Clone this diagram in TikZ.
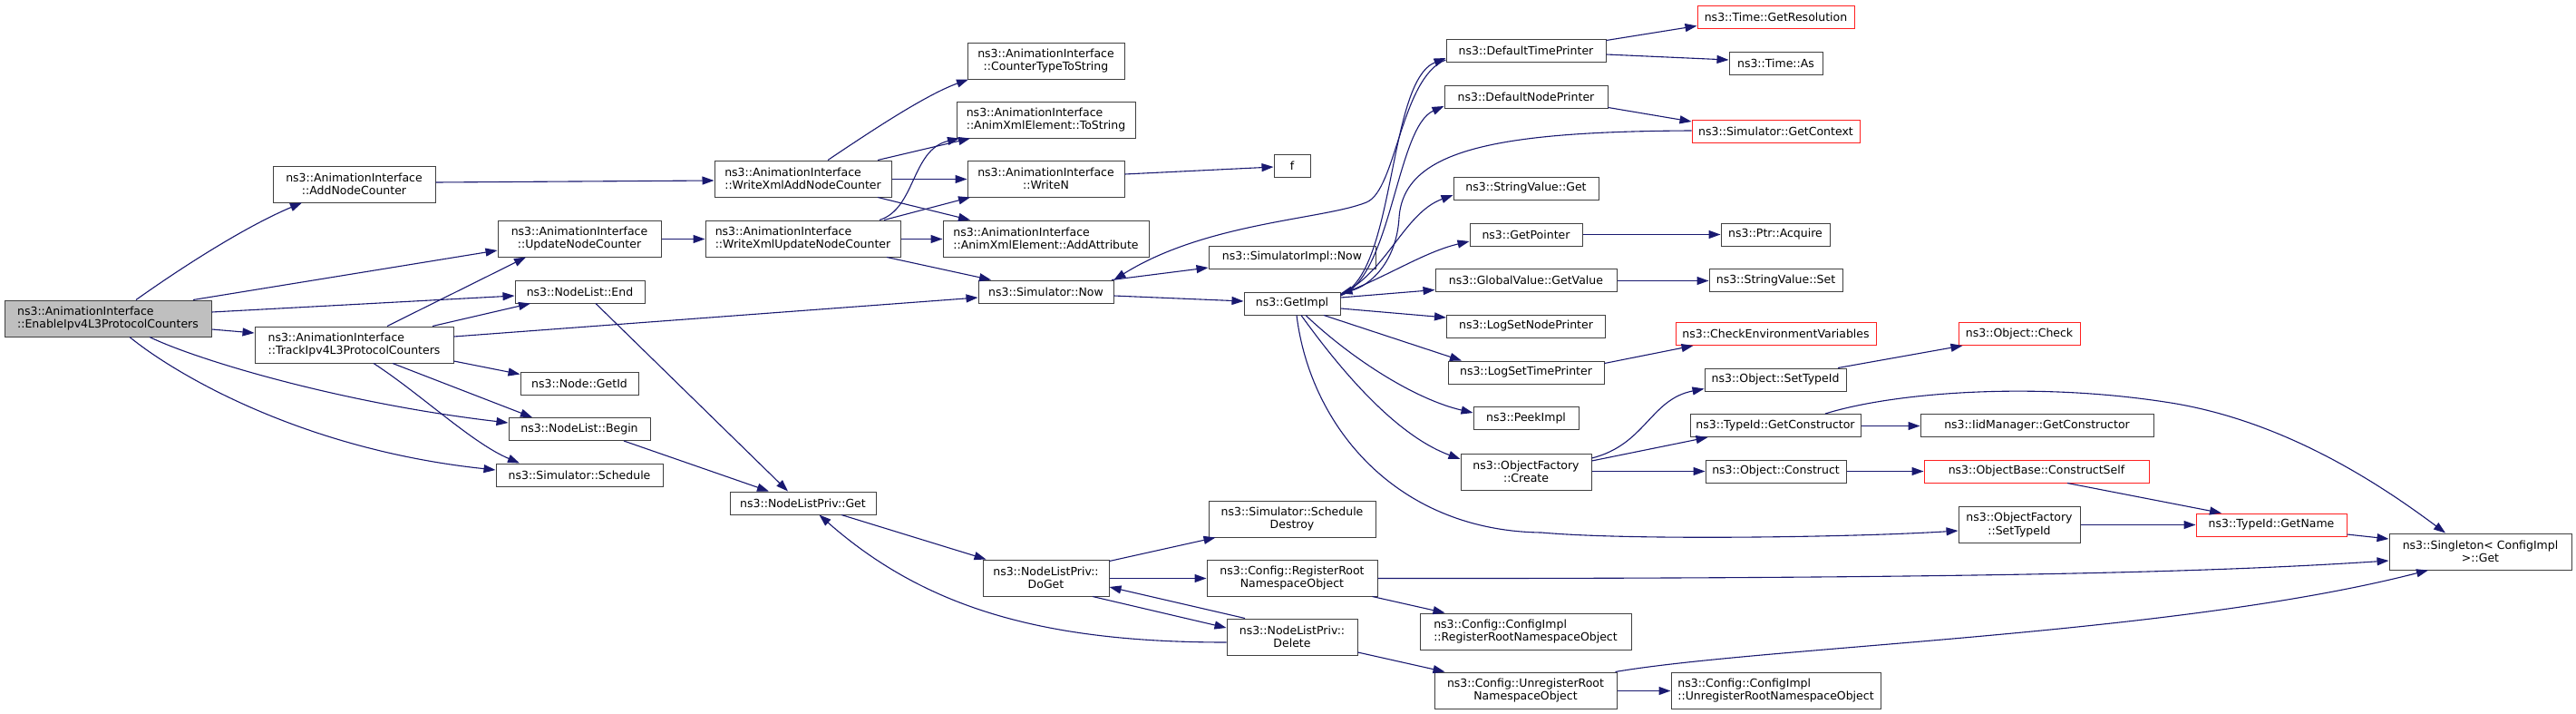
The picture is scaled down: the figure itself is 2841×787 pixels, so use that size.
\documentclass[tikz,border=0pt]{standalone}
\usepackage{fontspec}
\newfontfamily\dvs{DejaVu Sans}
\usetikzlibrary{arrows.meta}
\definecolor{edgec}{HTML}{191970}
\definecolor{nodeb}{HTML}{404040}
\definecolor{rootfill}{HTML}{BFBFBF}
\definecolor{redb}{HTML}{FF2020}
\newcommand{\ndfont}{\dvs\fontsize{12.5pt}{14.3pt}\selectfont}
\tikzset{
  nd/.style={draw=nodeb, line width=1pt, fill=white, inner xsep=4pt, inner ysep=0pt,
             minimum height=25pt, font=\ndfont, text=black},
  tl/.style={minimum height=40pt, align=center},
  tll/.style={minimum height=40pt, align=left},
  rd/.style={draw=redb},
  e/.style={draw=edgec, line width=1.1pt, -{Triangle[length=13pt,width=9pt]}}
}
\begin{document}
\begin{tikzpicture}[x=1pt,y=-1pt]
\path[fill=white] (0,0) rectangle (2841,787);
\useasboundingbox (0,0) rectangle (2841,787);
% column 1
\node[nd, tll, fill=rootfill, minimum width=228pt] (root) at (119,351) {ns3::AnimationInterface\\::EnableIpv4L3ProtocolCounters};
% column 2
\node[nd, tl, minimum width=179pt] (addnc) at (390.5,203) {ns3::AnimationInterface\\::AddNodeCounter};
\node[nd, tll, minimum width=219pt] (track) at (390.5,380) {ns3::AnimationInterface\\::TrackIpv4L3ProtocolCounters};
% column 3
\node[nd, tl, minimum width=180pt] (updnc) at (639,263) {ns3::AnimationInterface\\::UpdateNodeCounter};
\node[nd, minimum width=143pt] (nlend) at (639.5,321.5) {ns3::NodeList::End};
\node[nd, minimum width=130pt] (getid) at (639,422.5) {ns3::Node::GetId};
\node[nd, minimum width=156pt] (nlbegin) at (639,473) {ns3::NodeList::Begin};
\node[nd, minimum width=184pt] (sched) at (639,523.5) {ns3::Simulator::Schedule};
% column 4
\node[nd, tll, minimum width=195pt] (wxadd) at (885.5,197) {ns3::AnimationInterface\\::WriteXmlAddNodeCounter};
\node[nd, tll, minimum width=215pt] (wxupd) at (885.5,263) {ns3::AnimationInterface\\::WriteXmlUpdateNodeCounter};
\node[nd, minimum width=161pt] (nlpget) at (885.5,554.5) {ns3::NodeListPriv::Get};
% column 5
\node[nd, tl, minimum width=173pt] (ctts) at (1153.5,67) {ns3::AnimationInterface\\::CounterTypeToString};
\node[nd, tll, minimum width=197pt] (tostr) at (1153.5,132) {ns3::AnimationInterface\\::AnimXmlElement::ToString};
\node[nd, tl, minimum width=173pt] (writen) at (1153.5,197) {ns3::AnimationInterface\\::WriteN};
\node[nd, tll, minimum width=227pt] (addattr) at (1153.5,263) {ns3::AnimationInterface\\::AnimXmlElement::AddAttribute};
\node[nd, minimum width=149pt] (simnow) at (1153.5,321.5) {ns3::Simulator::Now};
\node[nd, tl, minimum width=139pt] (doget) at (1153.5,637) {ns3::NodeListPriv::\\DoGet};
% column 6
\node[nd, minimum width=40pt] (f) at (1425,182.5) {f};
\node[nd, minimum width=184pt] (simimplnow) at (1425,283.5) {ns3::SimulatorImpl::Now};
\node[nd, minimum width=106pt] (getimpl) at (1425,334.5) {ns3::GetImpl};
\node[nd, tl, minimum width=184pt] (schdestroy) at (1425,572) {ns3::Simulator::Schedule\\Destroy};
\node[nd, tl, minimum width=188pt] (regroot) at (1425,637) {ns3::Config::RegisterRoot\\NamespaceObject};
\node[nd, tl, minimum width=144pt] (delete) at (1425,702) {ns3::NodeListPriv::\\Delete};
% column 7
\node[nd, minimum width=176pt] (deftp) at (1683,55.5) {ns3::DefaultTimePrinter};
\node[nd, minimum width=180pt] (defnp) at (1683,106.5) {ns3::DefaultNodePrinter};
\node[nd, minimum width=160pt] (svget) at (1683,207.5) {ns3::StringValue::Get};
\node[nd, minimum width=124pt] (getptr) at (1683,258.5) {ns3::GetPointer};
\node[nd, minimum width=200pt] (gvget) at (1683,309) {ns3::GlobalValue::GetValue};
\node[nd, minimum width=175pt] (logsnp) at (1683,359.5) {ns3::LogSetNodePrinter};
\node[nd, minimum width=172pt] (logstp) at (1683,410.5) {ns3::LogSetTimePrinter};
\node[nd, minimum width=116pt] (peekimpl) at (1683,461) {ns3::PeekImpl};
\node[nd, tl, minimum width=144pt] (ofcreate) at (1683,520) {ns3::ObjectFactory\\::Create};
\node[nd, tll, minimum width=233pt] (cfgimplreg) at (1682.5,696) {ns3::Config::ConfigImpl\\::RegisterRootNamespaceObject};
\node[nd, tl, minimum width=201pt] (unreg) at (1682.5,761) {ns3::Config::UnregisterRoot\\NamespaceObject};
% column 8
\node[nd, rd, minimum width=173pt] (tgetres) at (1958.5,18.5) {ns3::Time::GetResolution};
\node[nd, minimum width=103pt] (timeas) at (1958.5,69.5) {ns3::Time::As};
\node[nd, rd, minimum width=185pt] (getctx) at (1958.5,145) {ns3::Simulator::GetContext};
\node[nd, minimum width=120pt] (ptracq) at (1958,258.5) {ns3::Ptr::Acquire};
\node[nd, minimum width=147pt] (svset) at (1958.5,309) {ns3::StringValue::Set};
\node[nd, rd, minimum width=221pt] (checkenv) at (1958.5,368) {ns3::CheckEnvironmentVariables};
\node[nd, minimum width=156pt] (objsettid) at (1958,418.5) {ns3::Object::SetTypeId};
\node[nd, minimum width=188pt] (tidgetctor) at (1958,469) {ns3::TypeId::GetConstructor};
\node[nd, minimum width=155pt] (objconstruct) at (1958.5,519.5) {ns3::Object::Construct};
\node[nd, tll, minimum width=231pt] (cfgimplunreg) at (1958.5,761) {ns3::Config::ConfigImpl\\::UnregisterRootNamespaceObject};
% column 9
\node[nd, rd, minimum width=134pt] (objcheck) at (2227,368) {ns3::Object::Check};
\node[nd, minimum width=257pt] (iidgetctor) at (2246.5,469) {ns3::IidManager::GetConstructor};
\node[nd, rd, minimum width=248pt] (constructself) at (2246,519.5) {ns3::ObjectBase::ConstructSelf};
\node[nd, tl, minimum width=134pt] (ofsettid) at (2227,578.5) {ns3::ObjectFactory\\::SetTypeId};
% column 10-11
\node[nd, rd, minimum width=166pt] (tidgetname) at (2505,578.5) {ns3::TypeId::GetName};
\node[nd, tl, minimum width=201pt] (singleton) at (2735.5,608) {ns3::Singleton< ConfigImpl\\>::Get};

% ---- edges from root
\draw[e] ([xshift=31pt]root.north) .. controls (200,295) and (270,250) .. ([xshift=-57.5pt]addnc.south);
\draw[e] ([xshift=94pt]root.north) -- ([yshift=-13pt]updnc.west);
\draw[e] ([yshift=7pt]root.east) -- ([yshift=-4.5pt]nlend.west);
\draw[e] ([yshift=-12pt]root.east) -- ([yshift=13pt]track.west);
\draw[e] ([xshift=46pt]root.south) .. controls (220,398) and (380,445) .. ([yshift=7pt]nlbegin.west);
\draw[e] ([xshift=24pt]root.south) .. controls (190,410) and (330,495) .. ([yshift=5.5pt]sched.west);
% ---- edges from track
\draw[e] ([xshift=36.5pt]track.north) -- ([xshift=-59pt]updnc.south);
\draw[e] ([xshift=86.5pt]track.north) -- ([xshift=-54.5pt]nlend.south);
\draw[e] ([yshift=9pt]track.east) -- ([yshift=-6.5pt]simnow.west);
\draw[e] ([yshift=-18pt]track.east) -- ([yshift=10pt]getid.west);
\draw[e] ([xshift=42.5pt]track.south) -- ([xshift=-52pt]nlbegin.north);
\draw[e] ([xshift=21.5pt]track.south) .. controls (465,435) and (520,488) .. ([xshift=-66pt]sched.north);
% ---- column 2/3 onwards
\draw[e] ([yshift=2pt]addnc.east) -- ([yshift=-2pt]wxadd.west);
\draw[e] ([yshift=-0.5pt]updnc.east) -- ([yshift=-0.5pt]wxupd.west);
\draw[e] ([xshift=17.5pt]nlend.south) -- ([xshift=-16.5pt]nlpget.north);
\draw[e] ([xshift=49pt]nlbegin.south) -- ([xshift=-37.5pt]nlpget.north);
% ---- wxadd
\draw[e] ([xshift=27.5pt]wxadd.north) .. controls (960,145) and (1020,105) .. ([xshift=-85.5pt]ctts.south);
\draw[e] ([xshift=82.5pt]wxadd.north) -- ([xshift=-83.5pt]tostr.south);
\draw[e] ([yshift=-0.5pt]wxadd.east) -- ([yshift=-0.5pt]writen.west);
\draw[e] ([xshift=82.5pt]wxadd.south) -- ([xshift=-83.5pt]addattr.north);
% ---- wxupd
\draw[e] ([xshift=84.5pt]wxupd.north) .. controls (1010,230) and (1005,165) .. ([xshift=-95.5pt]tostr.south);
\draw[e] ([xshift=89.5pt]wxupd.north) -- ([xshift=-83.5pt]writen.south);
\draw[e] ([yshift=-0.5pt]wxupd.east) -- ([yshift=-0.5pt]addattr.west);
\draw[e] ([xshift=92.5pt]wxupd.south) -- ([xshift=-60.5pt]simnow.north);
\draw[e] ([yshift=5pt]writen.east) -- ([yshift=-1.5pt]f.west);
% ---- simnow
\draw[e] ([xshift=72.5pt]simnow.north) -- ([yshift=-11.5pt]simimplnow.west);
\draw[e] ([yshift=-4.5pt]simnow.east) -- ([yshift=2.5pt]getimpl.west);
\draw[e] ([yshift=-10.5pt]deftp.west) .. controls (1545,85) and (1540,210) .. (1507,223) .. controls (1460,242) and (1330,245) .. (simnow.north east);
% ---- getimpl
\draw[e] ([yshift=9.5pt]getimpl.east) .. controls (1540,300) and (1530,90) .. ([yshift=-8.5pt]deftp.west);
\draw[e] ([yshift=8.5pt]getimpl.east) .. controls (1535,305) and (1540,140) .. ([yshift=-10.5pt]defnp.west);
\draw[e] ([yshift=1pt]getctx.west) .. controls (1650,145) and (1548,165) .. (1543,240) .. controls (1540,290) and (1510,315) .. ([yshift=11pt]getimpl.east);
\draw[e] ([yshift=10pt]getimpl.east) .. controls (1530,300) and (1548,235) .. ([yshift=-7.5pt]svget.west);
\draw[e] ([yshift=10pt]getimpl.east) .. controls (1530,305) and (1570,278) .. ([yshift=-7.5pt]getptr.west);
\draw[e] ([yshift=6.5pt]getimpl.east) -- ([yshift=-10.5pt]gvget.west);
\draw[e] ([yshift=-5.5pt]getimpl.east) -- ([yshift=9.5pt]logsnp.west);
\draw[e] ([xshift=35pt]getimpl.south) -- ([xshift=-71pt]logstp.north);
\draw[e] ([xshift=15pt]getimpl.south) .. controls (1490,395) and (1560,440) .. ([yshift=6pt]peekimpl.west);
\draw[e] ([xshift=10pt]getimpl.south) .. controls (1480,410) and (1540,480) .. ([yshift=14pt]ofcreate.west);
\draw[e] ([xshift=5pt]getimpl.south) .. controls (1445,470) and (1540,585) .. (1700,587) .. controls (1800,596) and (2050,592) .. ([yshift=-6.5pt]ofsettid.west);
% ---- column 7 -> 8
\draw[e] ([yshift=11pt]deftp.east) -- ([yshift=-10pt]tgetres.west);
\draw[e] ([yshift=-4.5pt]deftp.east) -- ([yshift=3.5pt]timeas.west);
\draw[e] ([yshift=-12pt]defnp.east) -- ([yshift=11pt]getctx.west);
\draw[e] (getptr.east) -- (ptracq.west);
\draw[e] ([yshift=-0.5pt]gvget.east) -- ([yshift=-0.5pt]svset.west);
\draw[e] ([yshift=10pt]logstp.east) -- ([xshift=20pt]checkenv.south west);
\draw[e] ([yshift=15pt]ofcreate.east) .. controls (1815,490) and (1820,440) .. ([yshift=-10pt]objsettid.west);
\draw[e] ([yshift=12pt]ofcreate.east) -- ([xshift=20pt]tidgetctor.south west);
\draw[e] ([yshift=0.5pt]ofcreate.east) -- (objconstruct.west);
\draw[e] ([xshift=69pt]objsettid.north) -- ([xshift=5pt]objcheck.south west);
\draw[e] ([yshift=-0.5pt]tidgetctor.east) -- ([yshift=-0.5pt]iidgetctor.west);
\draw[e] ([xshift=55pt]tidgetctor.north) .. controls (2090,432) and (2250,420) .. (2400,445) .. controls (2520,466) and (2620,530) .. ([xshift=-38.5pt]singleton.north);
\draw[e] (objconstruct.east) -- (constructself.west);
\draw[e] ([xshift=34pt]constructself.south) -- ([xshift=-55pt]tidgetname.north);
\draw[e] (ofsettid.east) -- (tidgetname.west);
\draw[e] ([yshift=-10.5pt]tidgetname.east) -- ([yshift=14pt]singleton.west);
% ---- lower part
\draw[e] ([xshift=42.5pt]nlpget.south) -- ([xshift=4pt]doget.north west);
\draw[e] ([yshift=-2pt]doget.north east) -- ([xshift=8pt]schdestroy.south west);
\draw[e] ([yshift=-0.5pt]doget.east) -- ([yshift=-0.5pt]regroot.west);
\draw[e] ([xshift=51.5pt]doget.south) -- ([yshift=10pt]delete.west);
\draw[e] ([xshift=-52pt]delete.north) -- ([yshift=-10pt]doget.east);
\draw[e] ([yshift=-6pt]delete.west) .. controls (1150,708) and (1020,670) .. ([xshift=18pt]nlpget.south);
\draw[e] ([yshift=-17pt]delete.east) -- ([xshift=12pt]unreg.north west);
\draw[e] ([yshift=-0.5pt]regroot.east) .. controls (2200,638) and (2450,630) .. ([yshift=-10pt]singleton.west);
\draw[e] ([xshift=-6pt]regroot.south east) -- ([xshift=28pt]cfgimplreg.north west);
\draw[e] ([yshift=-0.5pt]unreg.east) -- ([yshift=-0.5pt]cfgimplunreg.west);
\draw[e] ([xshift=-2pt]unreg.north east) .. controls (1950,712) and (2400,700) .. ([xshift=-57.5pt]singleton.south);
\end{tikzpicture}
\end{document}
